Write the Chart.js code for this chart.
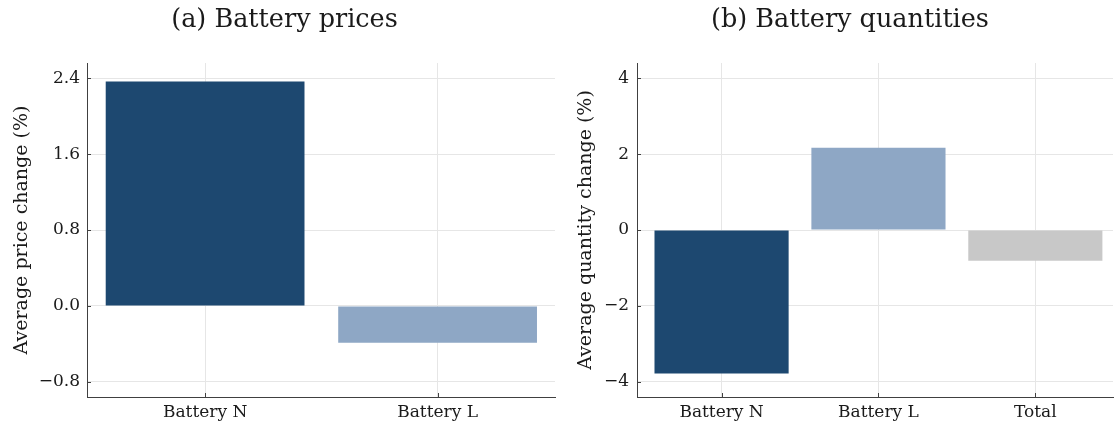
<!DOCTYPE html>
<html>
<head>
<meta charset="utf-8">
<script src="https://cdn.jsdelivr.net/npm/chart.js@4"></script>
<style>
  html, body { margin: 0; padding: 0; background: #fff; overflow: hidden; width: 1114px; height: 428px; }
  #wrap { position: relative; width: 1114px; height: 428px; overflow: hidden; }
  canvas { position: absolute; top: 0; }
  #pricesCanvas { left: 0; }
  #quantitiesCanvas { left: 550px; }
</style>
</head>
<body>
<div id="wrap">
  <canvas id="pricesCanvas" width="569" height="428"></canvas>
  <canvas id="quantitiesCanvas" width="600" height="428"></canvas>
</div>
<script>
// Panel (a): average price change by battery type
const priceCategories = ['Battery N', 'Battery L'];
const priceValues = [2.365, -0.388];
const priceTicks = [-0.8, 0.0, 0.8, 1.6, 2.4];

// Panel (b): average quantity change by battery type and overall
const quantityCategories = ['Battery N', 'Battery L', 'Total'];
const quantityValues = [-3.78, 2.17, -0.81];
const quantityTicks = [-4, -2, 0, 2, 4];

const priceColors = ['#1d4870', '#8ea7c5'];
const quantityColors = ['#1d4870', '#8ea7c5', '#c8c8c8'];

const FONT = "'DejaVu Serif', serif";
const TEXT = '#1a1a1a';
const AXIS = '#404040';
const GRID = '#e6e6e6';

const minus = s => s.replace('-', '\u2212');

// Short tick marks pointing into the plot area
const innerTicks = {
  id: 'innerTicks',
  afterDraw(chart) {
    const { ctx, chartArea: a, scales: { x, y } } = chart;
    ctx.save();
    ctx.strokeStyle = AXIS;
    ctx.lineWidth = 1;
    ctx.beginPath();
    x.ticks.forEach(t => {
      const px = Math.round(x.getPixelForValue(t.value)) + 0.5;
      ctx.moveTo(px, a.bottom);
      ctx.lineTo(px, a.bottom - 4);
    });
    y.ticks.forEach(t => {
      const py = Math.round(y.getPixelForValue(t.value)) + 0.5;
      ctx.moveTo(a.left, py);
      ctx.lineTo(a.left + 4, py);
    });
    ctx.stroke();
    ctx.restore();
  }
};

// Equal side padding keeps each panel title centred on its canvas
function makePanel(canvas, cfg) {
  return new Chart(canvas, {
    type: 'bar',
    data: {
      datasets: [{
        data: cfg.values.map((v, i) => ({ x: i, y: v })),
        backgroundColor: cfg.colors,
        borderWidth: 0,
        barPercentage: 0.855,
        categoryPercentage: 1.0
      }]
    },
    options: {
      responsive: false,
      animation: false,
      devicePixelRatio: 1,
      layout: { padding: { left: cfg.sidePad, right: cfg.sidePad, top: 0, bottom: 0 } },
      plugins: {
        legend: { display: false },
        tooltip: { enabled: false },
        title: {
          display: true,
          text: cfg.title,
          color: TEXT,
          font: { family: FONT, size: 25.5, weight: 'normal', lineHeight: 1.2 },
          padding: { top: 5, bottom: 27.4 }
        }
      },
      scales: {
        x: {
          type: 'linear',
          offset: false,
          min: cfg.xMin,
          max: cfg.xMax,
          afterBuildTicks: s => { s.ticks = cfg.categories.map((_, i) => ({ value: i })); },
          afterFit: s => { s.height = 31; },
          ticks: {
            callback: (v, i) => cfg.categories[i],
            color: TEXT,
            font: { family: FONT, size: 17 },
            padding: 5,
            maxRotation: 0,
            autoSkip: false
          },
          grid: { offset: false, color: GRID, lineWidth: 1, drawTicks: false },
          border: { display: true, color: AXIS, width: 1 }
        },
        y: {
          type: 'linear',
          min: cfg.yMin,
          max: cfg.yMax,
          afterBuildTicks: s => { s.ticks = cfg.yTicks.map(v => ({ value: v })); },
          afterFit: s => { s.width = cfg.axisWidth; },
          ticks: {
            callback: v => minus(cfg.tickFormat(v)),
            color: TEXT,
            font: { family: FONT, size: 17 },
            padding: cfg.yTickPad
          },
          title: {
            display: true,
            text: cfg.yTitle,
            color: TEXT,
            font: { family: FONT, size: 19, lineHeight: 1.2 },
            padding: { top: cfg.yTitlePad, bottom: 0 }
          },
          grid: { color: GRID, lineWidth: 1, drawTicks: false },
          border: { display: true, color: AXIS, width: 1 }
        }
      }
    },
    plugins: [innerTicks]
  });
}

makePanel(document.getElementById('pricesCanvas'), {
  title: '(a) Battery prices',
  yTitle: 'Average price change (%)',
  categories: priceCategories,
  values: priceValues,
  colors: priceColors,
  yTicks: priceTicks,
  yMin: -0.96, yMax: 2.56,
  xMin: -0.508, xMax: 1.505,
  tickFormat: v => v.toFixed(1),
  sidePad: 14, axisWidth: 73,
  yTitlePad: -3.4, yTickPad: 7
});

makePanel(document.getElementById('quantitiesCanvas'), {
  title: '(b) Battery quantities',
  yTitle: 'Average quantity change (%)',
  categories: quantityCategories,
  values: quantityValues,
  colors: quantityColors,
  yTicks: quantityTicks,
  yMin: -4.4, yMax: 4.4,
  xMin: -0.539, xMax: 2.495,
  tickFormat: v => String(v),
  sidePad: 37, axisWidth: 50,
  yTitlePad: -12.4, yTickPad: 8
});
</script>
</body>
</html>
